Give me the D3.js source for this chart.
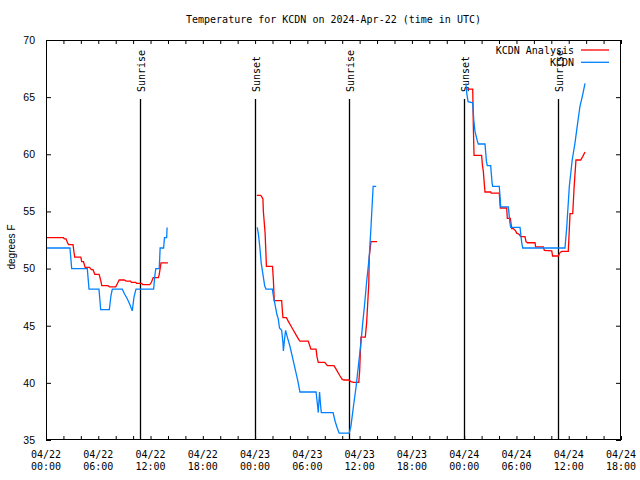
<!DOCTYPE html>
<html><head><meta charset="utf-8">
<script src="https://cdn.jsdelivr.net/npm/d3@7"></script>
<style>
body{margin:0;background:#fff;}
svg{display:block;}
</style></head>
<body>
<svg id="chart" width="640" height="480"></svg>
<script>
// Hours since 2024-04-22 00:00 UTC; null temp = gap
const analysisHours = [0.1,2.0,2.1,2.3,2.5,2.6,3.1,3.2,3.3,4.0,4.1,4.3,4.5,5.0,5.2,5.4,5.6,6.1,6.3,6.4,7.1,7.3,8.0,8.2,8.4,9.0,9.2,9.7,9.8,10.3,10.4,11.0,11.1,11.9,12.1,12.3,12.9,13.0,13.2,14.0,
  19.0,
  24.2,24.65,24.75,24.9,24.95,25.15,25.25,25.3,26.0,26.1,26.2,27.05,27.15,27.2,27.6,27.8,28.1,28.4,28.7,29.0,29.15,30.1,30.3,30.4,31.0,31.1,31.25,32.0,32.2,32.3,33.05,33.3,33.6,33.75,34.0,34.2,34.8,35.0,35.3,35.9,36.0,36.15,36.65,36.8,37.05,37.1,37.3,38.0,
  43.0,
  48.25,48.98,49.05,49.13,50.0,50.1,50.2,50.3,50.39,51.04,51.1,52.03,52.15,52.88,52.95,53.3,53.45,53.64,53.9,54.03,54.3,54.49,54.98,55.1,55.25,56.13,56.2,57.08,57.2,58.05,58.15,58.8,59.0,59.19,59.95,60.15,60.46,60.61,60.83,61.37,61.6,61.87];
const analysisTemps = [52.7,52.7,52.6,52.6,52.2,52.1,52.1,51.5,51.0,51.0,50.6,50.6,50.1,50.1,49.9,49.9,49.5,49.5,48.9,48.5,48.5,48.4,48.4,48.7,49.0,49.0,48.9,48.9,48.8,48.8,48.7,48.7,48.6,48.6,48.8,49.2,49.2,49.5,50.5,50.5,
  null,
  56.4,56.4,56.3,56.1,55.0,53.1,51.2,50.2,50.2,49.0,47.2,47.2,46.1,45.7,45.7,45.4,45.0,44.6,44.2,43.8,43.65,43.65,43.2,42.95,42.95,42.3,41.8,41.8,41.6,41.5,41.5,41.2,40.8,40.6,40.3,40.25,40.25,40.1,40.05,40.05,41.0,44.0,44.0,45.2,48.7,51.0,52.35,52.35,
  null,
  65.7,65.7,62.5,59.9,59.9,59.0,58.5,57.5,56.7,56.7,56.6,56.6,55.3,55.3,54.4,54.4,53.5,53.5,53.3,53.1,53.0,52.8,52.8,52.35,52.26,52.26,51.9,51.9,51.6,51.54,51.1,51.1,51.4,51.5,51.5,54.8,54.8,57.0,59.5,59.5,59.8,60.2];

const obsHours = [0.1,2.75,2.95,4.74,4.94,6.08,6.28,7.27,7.45,7.61,8.76,9.0,9.3,9.6,9.9,10.1,10.33,12.35,12.5,12.6,13.0,13.1,13.5,13.6,13.85,13.9,
  19.0,
  24.25,24.4,24.55,24.7,24.9,25.1,25.25,25.98,26.1,26.3,26.5,26.66,26.8,27.05,27.2,27.25,27.35,27.5,27.7,28.0,28.3,28.6,28.9,29.15,31.0,31.2,31.25,31.4,31.5,31.6,32.95,33.2,33.45,33.65,34.8,35.0,35.3,35.6,35.9,36.15,36.35,36.55,36.8,37.1,37.3,37.55,37.9,
  43.0,
  48.2,48.3,48.45,48.98,49.1,49.24,49.5,49.62,50.39,50.55,50.65,51.04,51.2,51.27,52.03,52.15,52.19,53.07,53.25,53.34,54.41,54.6,54.72,59.57,59.77,60.07,60.4,60.72,61.0,61.29,61.6,61.87];
const obsTemps = [51.8,51.8,50.0,50.0,48.2,48.2,46.4,46.4,47.6,48.2,48.2,47.8,47.4,46.9,46.3,47.5,48.2,48.2,49.4,50.0,50.0,51.8,51.8,52.7,52.7,53.6,
  null,
  53.6,52.9,51.8,50.5,49.5,48.5,48.2,48.2,47.6,46.8,46.0,45.6,44.8,44.6,43.5,42.8,43.6,44.6,44.0,43.2,42.2,41.2,40.2,39.2,39.2,37.8,37.4,39.2,38.2,37.4,37.4,36.6,36.0,35.6,35.6,36.2,38.0,39.7,41.8,43.5,45.2,46.7,48.8,51.0,53.6,57.2,57.2,
  null,
  66.2,65.3,64.6,64.5,63.0,62.0,61.2,60.9,60.9,59.4,59.0,59.0,57.5,57.2,57.2,55.9,55.4,55.4,54.0,53.6,53.6,52.3,51.8,51.8,53.6,57.2,59.5,61.0,62.6,64.2,65.2,66.2];

const sunriseHours = [10.8, 34.8, 58.8];
const sunsetHours = [23.98, 47.98];

const xTickHours = [0,6,12,18,24,30,36,42,48,54,60,66];
const xTickDates = ["04/22","04/22","04/22","04/22","04/23","04/23","04/23","04/23","04/24","04/24","04/24","04/24"];
const xTickTimes = ["00:00","06:00","12:00","18:00","00:00","06:00","12:00","18:00","00:00","06:00","12:00","18:00"];
const yTicks = [35,40,45,50,55,60,65,70];

const seriesNames = ["KCDN Analysis","KCDN"];
const seriesColors = ["#ff0000","#0080ff"];

const L=46, R=621, T=40, B=440;
const mono = "'DejaVu Sans Mono', monospace";
const sans = "'Liberation Sans', Arial, sans-serif";

const svg = d3.select("#chart");
const x = d3.scaleLinear().domain([0,66]).range([L,R]);
const y = d3.scaleLinear().domain([35,70]).range([B,T]);

// title
svg.append("text").attr("x",(L+R)/2).attr("y",23).attr("text-anchor","middle")
  .attr("font-family",mono).attr("font-size",10).text("Temperature for KCDN on 2024-Apr-22 (time in UTC)");

// axes (ticks inward)
const minorX = d3.range(0,67,2);
svg.append("g").attr("transform",`translate(0,${B})`)
  .call(d3.axisBottom(x).tickValues(minorX).tickSizeInner(-4).tickSizeOuter(0).tickFormat(""))
  .call(g=>{g.select(".domain").remove(); g.selectAll("line").attr("stroke","#000");});
svg.append("g").attr("transform",`translate(0,${T})`)
  .call(d3.axisTop(x).tickValues(minorX).tickSizeInner(-4).tickSizeOuter(0).tickFormat(""))
  .call(g=>{g.select(".domain").remove(); g.selectAll("line").attr("stroke","#000");});
svg.append("g").attr("transform",`translate(${L},0)`)
  .call(d3.axisLeft(y).tickValues(yTicks).tickSizeInner(-5).tickSizeOuter(0).tickPadding(11).tickFormat(d3.format("d")))
  .call(g=>{g.select(".domain").remove(); g.selectAll("line").attr("stroke","#000");
    g.selectAll("text").attr("font-family",sans).attr("font-size",10.5).attr("fill","#000");});
svg.append("g").attr("transform",`translate(${R},0)`)
  .call(d3.axisRight(y).tickValues(yTicks).tickSizeInner(-5).tickSizeOuter(0).tickFormat(""))
  .call(g=>{g.select(".domain").remove(); g.selectAll("line").attr("stroke","#000");});

// x labels
const xl = svg.append("g").attr("font-family",mono).attr("font-size",10).attr("text-anchor","middle");
xTickHours.forEach((h,i)=>{
  xl.append("text").attr("x",x(h)).attr("y",458).text(xTickDates[i]);
  xl.append("text").attr("x",x(h)).attr("y",470).text(xTickTimes[i]);
});

// y label
svg.append("text").attr("transform","translate(15,247) rotate(-90)").attr("text-anchor","middle")
  .attr("font-family",sans).attr("font-size",10).text("degrees F");

// sunrise / sunset
const events = sunriseHours.map(h=>({h,label:"Sunrise"})).concat(sunsetHours.map(h=>({h,label:"Sunset"})));
events.forEach(e=>{
  const xp = Math.round(x(e.h))+0.5;
  svg.append("line").attr("x1",xp).attr("x2",xp).attr("y1",99).attr("y2",B)
    .attr("stroke","#000").attr("stroke-width",1.3);
  svg.append("text").attr("transform",`translate(${xp+4},92) rotate(-90)`)
    .attr("font-family",mono).attr("font-size",10).text(e.label);
});

// lines
const line = d3.line().defined(d=>d.v!==null).x(d=>x(d.h)).y(d=>y(d.v));
const aData = analysisHours.map((h,i)=>({h,v:analysisTemps[i]}));
const oData = obsHours.map((h,i)=>({h,v:obsTemps[i]}));
svg.append("path").datum(aData).attr("d",line).attr("fill","none").attr("stroke",seriesColors[0]).attr("stroke-width",1.3);
svg.append("path").datum(oData).attr("d",line).attr("fill","none").attr("stroke",seriesColors[1]).attr("stroke-width",1.3);

// frame
svg.append("rect").attr("x",L+0.5).attr("y",T+0.5).attr("width",R-L-1).attr("height",B-T-1)
  .attr("fill","none").attr("stroke","#000").attr("stroke-width",1);

// legend
seriesNames.forEach((n,i)=>{
  const yy = 50 + i*12.3;
  svg.append("text").attr("x",574).attr("y",yy+4).attr("text-anchor","end")
    .attr("font-family",mono).attr("font-size",10).text(n);
  svg.append("line").attr("x1",581).attr("x2",609).attr("y1",yy).attr("y2",yy)
    .attr("stroke",seriesColors[i]).attr("stroke-width",1.3);
});
</script>
</body></html>
